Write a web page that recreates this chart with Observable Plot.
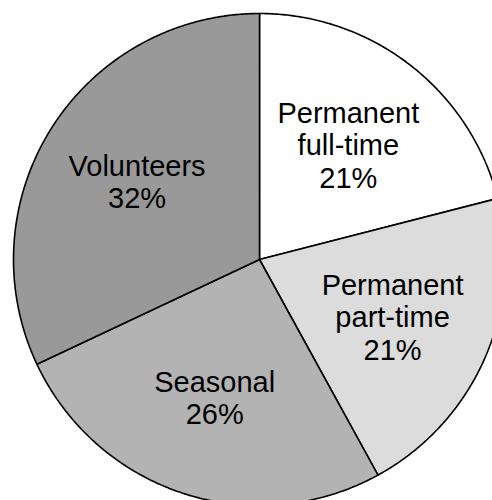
<!DOCTYPE html>
<html>
<head>
<meta charset="utf-8">
<script src="https://cdn.jsdelivr.net/npm/d3@7"></script>
<script src="https://cdn.jsdelivr.net/npm/@observablehq/plot@0.6"></script>
<style>
  html, body { margin: 0; padding: 0; background: #fff; overflow: hidden; }
  #chart svg { display: block; }
</style>
</head>
<body>
<div id="chart"></div>
<script>
const categories = ["Permanent full-time", "Permanent part-time", "Seasonal", "Volunteers"];
const labelLines = ["Permanent\nfull-time", "Permanent\npart-time", "Seasonal", "Volunteers"];
const values = [21, 21, 26, 32];
const colors = ["#ffffff", "#dcdcdc", "#b3b3b3", "#999999"];

const W = 492, H = 500;
const cx = 259, cy = 259;     // pie centre in pixels
const R = 246;                // pie radius
const labelR = 145;           // label radius

const arcs = d3.pie().sort(null).value(d => d)(values);

// polygon points for each slice (data coords: y up, centre at 0,0)
const pts = [];
arcs.forEach((a, i) => {
  const key = categories[i];
  pts.push({key, x: 0, y: 0});
  const n = Math.max(2, Math.ceil((a.endAngle - a.startAngle) / (Math.PI / 360)));
  for (let k = 0; k <= n; k++) {
    const t = a.startAngle + (a.endAngle - a.startAngle) * k / n;
    pts.push({key, x: R * Math.sin(t), y: R * Math.cos(t)});
  }
  pts.push({key, x: 0, y: 0});
});

const labelData = arcs.map((a, i) => {
  const m = (a.startAngle + a.endAngle) / 2;
  return {text: labelLines[i] + "\n" + values[i] + "%", x: labelR * Math.sin(m), y: labelR * Math.cos(m)};
});

const chart = Plot.plot({
  width: W,
  height: H,
  margin: 0,
  x: {domain: [-cx, W - cx], axis: null},
  y: {domain: [cy - H, cy], axis: null},
  color: {domain: categories, range: colors},
  marks: [
    Plot.line(pts, {x: "x", y: "y", z: "key", fill: "key", stroke: "black", strokeWidth: 1.6, strokeLinejoin: "round", clip: true}),
    Plot.text(labelData, {x: "x", y: "y", text: "text", fontSize: 29, lineHeight: 1.12, fill: "black",
      fontFamily: "'Liberation Sans', Arial, sans-serif", textAnchor: "middle"})
  ]
});
document.getElementById("chart").appendChild(chart);
</script>
</body>
</html>
